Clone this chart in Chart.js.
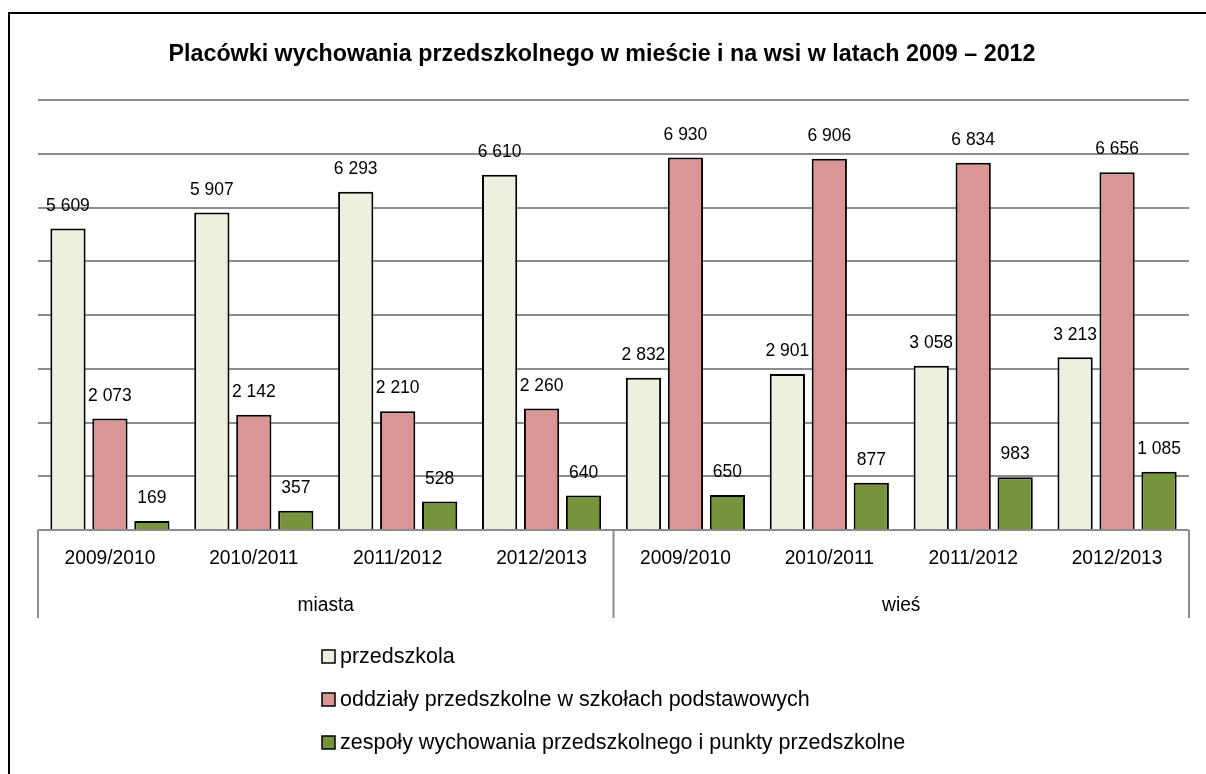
<!DOCTYPE html>
<html lang="pl">
<head>
    <meta charset="UTF-8">
    <title>Placówki wychowania przedszkolnego</title>
    <script src="https://cdn.jsdelivr.net/npm/chart.js"></script>
    <style>
        html, body { margin: 0; padding: 0; background: #fff; }
        #wrap { position: relative; width: 1206px; height: 774px; overflow: hidden; }
        #frame { position: absolute; left: 8px; top: 12px; width: 1300px; height: 900px; border: 2px solid #000; box-sizing: border-box; pointer-events: none; }
        canvas { position: absolute; left: 0; top: 0; }
    </style>
</head>
<body>
<div id="wrap">
    <canvas id="chart" width="1206" height="774"></canvas>
    <div id="frame"></div>
</div>
<script>
    const title = 'Placówki wychowania przedszkolnego w mieście i na wsi w latach 2009 – 2012';
    const years = ['2009/2010', '2010/2011', '2011/2012', '2012/2013',
                   '2009/2010', '2010/2011', '2011/2012', '2012/2013'];
    const groups = ['miasta', 'wieś'];
    const przedszkola = [5609, 5907, 6293, 6610, 2832, 2901, 3058, 3213];
    const oddzialy = [2073, 2142, 2210, 2260, 6930, 6906, 6834, 6656];
    const zespoly = [169, 357, 528, 640, 650, 877, 983, 1085];
    const seriesNames = ['przedszkola',
                         'oddziały przedszkolne w szkołach podstawowych',
                         'zespoły wychowania przedszkolnego i punkty przedszkolne'];

    const FONT = '"Liberation Sans", Arial, sans-serif';
    const fmt = v => String(v).replace(/\B(?=(\d{3})+(?!\d))/g, ' ');

    // text squeezed a bit horizontally, like the narrow font of the original
    function say(ctx, text, x, y, size, sx, align, bold) {
        ctx.save();
        ctx.font = (bold ? 'bold ' : '') + size + 'px ' + FONT;
        ctx.textBaseline = 'middle';
        ctx.textAlign = align;
        ctx.translate(x, y);
        ctx.scale(sx, 1);
        ctx.fillText(text, 0, 0);
        ctx.restore();
    }

    const extras = {
        id: 'extras',
        afterDatasetsDraw(chart) {
            const ctx = chart.ctx;
            const area = chart.chartArea;
            const x = chart.scales.x;
            ctx.save();
            ctx.fillStyle = '#000';

            // value labels
            chart.data.datasets.forEach((ds, i) => {
                chart.getDatasetMeta(i).data.forEach((bar, j) => {
                    say(ctx, fmt(ds.data[j]), bar.x, bar.y - 23, 19, 0.92, 'center');
                });
            });

            // title, fitted to the original width
            ctx.font = 'bold 24px ' + FONT;
            const tw = ctx.measureText(title).width;
            say(ctx, title, 602, 54, 24, 867 / tw, 'center', true);

            // x axis line
            ctx.strokeStyle = '#8c8c8c';
            ctx.lineWidth = 2;
            ctx.beginPath();
            ctx.moveTo(area.left, area.bottom);
            ctx.lineTo(area.right, area.bottom);
            ctx.stroke();

            years.forEach((y, i) => {
                say(ctx, y, x.getPixelForValue(i), 558, 20, 0.96, 'center');
            });

            // group separators and labels
            const per = years.length / groups.length;
            const step = (area.right - area.left) / years.length;
            ctx.beginPath();
            for (let g = 0; g <= groups.length; g++) {
                const gx = area.left + g * per * step;
                ctx.moveTo(gx, area.bottom);
                ctx.lineTo(gx, 618);
            }
            ctx.stroke();
            groups.forEach((g, i) => {
                say(ctx, g, area.left + (i + 0.5) * per * step, 605, 20, 0.96, 'center');
            });

            // legend
            chart.data.datasets.forEach((ds, i) => {
                const ly = 656 + i * 43;
                ctx.fillStyle = ds.backgroundColor;
                ctx.fillRect(322, ly - 6, 13, 13);
                ctx.strokeStyle = '#000';
                ctx.lineWidth = 1.5;
                ctx.strokeRect(322, ly - 6, 13, 13);
                ctx.fillStyle = '#000';
                say(ctx, ds.label, 340, ly + 1, 21.5, 1, 'left');
            });
            ctx.restore();
        }
    };

    const common = { borderColor: '#000', borderWidth: 2, categoryPercentage: 0.875, barPercentage: 0.84 };

    new Chart(document.getElementById('chart'), {
        type: 'bar',
        data: {
            labels: years,
            datasets: [
                Object.assign({ label: seriesNames[0], data: przedszkola, backgroundColor: '#ebf1de' }, common),
                Object.assign({ label: seriesNames[1], data: oddzialy, backgroundColor: '#d99694' }, common),
                Object.assign({ label: seriesNames[2], data: zespoly, backgroundColor: '#77933c' }, common)
            ]
        },
        options: {
            responsive: false,
            animation: false,
            layout: { padding: { left: 38, right: 17, top: 100, bottom: 244 } },
            plugins: { legend: { display: false }, title: { display: false }, tooltip: { enabled: false } },
            scales: {
                x: {
                    ticks: { display: false },
                    grid: { display: false },
                    border: { display: false },
                    afterFit: s => { s.height = 0; }
                },
                y: {
                    min: 0, max: 8000,
                    ticks: { display: false, stepSize: 1000 },
                    grid: { color: '#8c8c8c', lineWidth: 2, drawTicks: false },
                    border: { display: false },
                    afterFit: s => { s.width = 0; }
                }
            }
        },
        plugins: [extras]
    });
</script>
</body>
</html>
